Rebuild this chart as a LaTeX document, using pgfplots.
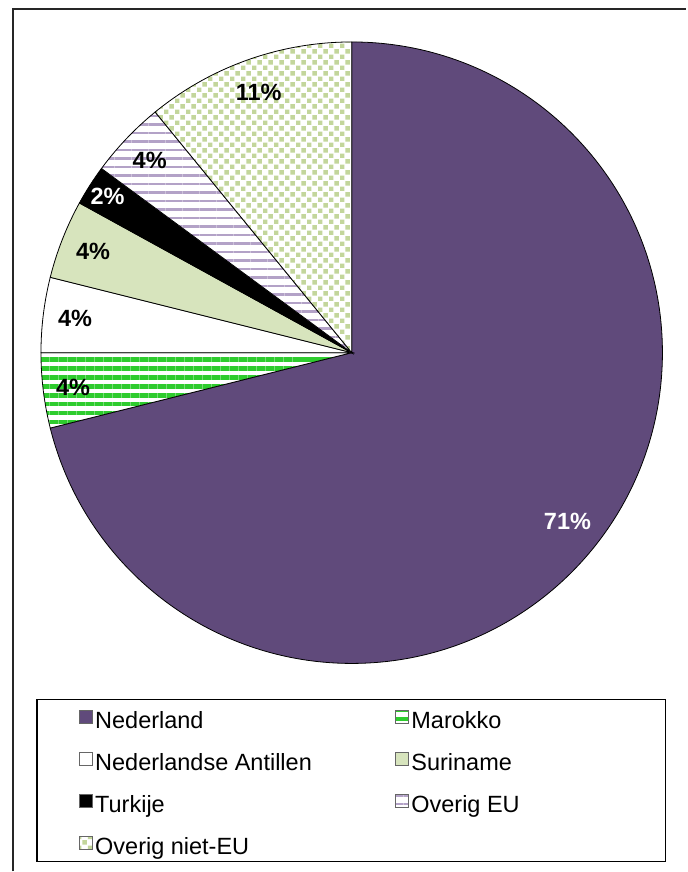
\documentclass[border=0pt]{standalone}
\usepackage{pgfplots}
\pgfplotsset{compat=1.18}
\usepackage{pgfplotstable}
\usepackage{fontspec}
\setmainfont{Liberation Sans}
\usetikzlibrary{patterns,patterns.meta}

\definecolor{cNed}{RGB}{96,74,123}
\definecolor{cMar}{RGB}{46,204,46}
\definecolor{cSur}{RGB}{215,228,189}
\definecolor{cEU}{RGB}{179,162,199}
\definecolor{cNEU}{RGB}{195,214,155}

\pgfdeclarepattern{
  name=sqdots, type=uncolored,
  bottom left={\pgfpoint{0pt}{0pt}},
  top right={\pgfpoint{11pt}{11pt}},
  tile size={\pgfpoint{11pt}{11pt}},
  code={
    \pgfpathrectangle{\pgfpoint{0pt}{0pt}}{\pgfpoint{4.5pt}{4.5pt}}
    \pgfpathrectangle{\pgfpoint{5.5pt}{5.5pt}}{\pgfpoint{4.5pt}{4.5pt}}
    \pgfusepath{fill}
  }
}

\tikzset{
  s0/.style={fill=cNed},
  s1/.style={preaction={fill=white}, pattern={Lines[angle=0,distance=9pt,line width=4.2pt]}, pattern color=cMar},
  s2/.style={fill=white},
  s3/.style={fill=cSur},
  s4/.style={fill=black},
  s5/.style={preaction={fill=white}, pattern={Lines[angle=0,distance=8.5pt,line width=2.4pt]}, pattern color=cEU},
  s6/.style={preaction={fill=white}, pattern=sqdots, pattern color=cNEU},
  t0/.style={text=white}, t1/.style={text=black}, t2/.style={text=black},
  t3/.style={text=black}, t4/.style={text=white}, t5/.style={text=black},
  t6/.style={text=black},
}
\newcommand\labfont{\fontsize{23.5}{27}\selectfont\bfseries}

% value = share in percent, pct = printed label, lr = label distance from centre
\pgfplotstableread{
value pct lr
71.1 71 274
3.9 4 281
3.9 4 279
4.1 4 278
2.1 2 290
4.0 4 279
10.9 11 277
}\piedata

\begin{document}
\begin{tikzpicture}
\begin{axis}[
  hide axis, x=1pt, y=1pt, scale only axis,
  xmin=0, xmax=687, ymin=-872, ymax=0, clip=false,
  legend columns=2, legend cell align=left,
  legend image code/.code={\draw[#1, draw=black!60, line width=0.6pt] (0pt,0.5pt) rectangle (12.5pt,13pt);},
  legend style={draw=none, fill=none, inner sep=0pt,
    at={(0.11499,0.18521)}, anchor=north west,
    font=\fontsize{23.5}{27}\selectfont,
    nodes={inner xsep=3pt, inner ysep=0pt, text height=15pt, text depth=4.5pt},
    row sep=19pt,
    /tikz/every even column/.append style={column sep=80.5pt}},
]
\path (axis cs:0,0) (axis cs:687,-872);
\draw[line width=1.5pt, black!85] (axis cs:13,-872) -- (axis cs:13,-9) -- (axis cs:687,-9);
\draw[line width=1.3pt] (axis cs:37,-700) rectangle (axis cs:666,-862);

\pgfmathsetmacro\cum{0}
\pgfplotsforeachungrouped \i in {0,...,6}{%
  \pgfplotstablegetelem{\i}{value}\of\piedata
  \pgfmathsetmacro\va{\pgfplotsretval}
  \pgfmathsetmacro\a{90-3.6*\cum}
  \pgfmathsetmacro\b{90-3.6*(\cum+\va)}
  \edef\temp{\noexpand\draw[s\i, draw=black, line width=0.8pt] (axis cs:352,-353) -- ([shift={(\a:311pt)}]axis cs:352,-353) arc[start angle=\a, end angle=\b, radius=311pt] -- cycle;}%
  \temp
  \pgfmathsetmacro\cum{\cum+\va}
}
\pgfmathsetmacro\cum{0}
\pgfplotsforeachungrouped \i in {0,...,6}{%
  \pgfplotstablegetelem{\i}{value}\of\piedata
  \pgfmathsetmacro\va{\pgfplotsretval}
  \pgfplotstablegetelem{\i}{pct}\of\piedata
  \edef\pct{\pgfplotsretval}
  \pgfplotstablegetelem{\i}{lr}\of\piedata
  \edef\lr{\pgfplotsretval}
  \pgfmathsetmacro\m{90-3.6*(\cum+\va/2)}
  \edef\temp{\noexpand\node[t\i, font=\noexpand\labfont] at ([shift={(\m:\lr pt)}]axis cs:352,-353) {\pct\noexpand\%};}%
  \temp
  \pgfmathsetmacro\cum{\cum+\va}
}

\addlegendimage{s0}\addlegendentry{Nederland}
\addlegendimage{s1}\addlegendentry{Marokko}
\addlegendimage{s2}\addlegendentry{Nederlandse Antillen}
\addlegendimage{s3}\addlegendentry{Suriname}
\addlegendimage{s4}\addlegendentry{Turkije}
\addlegendimage{s5}\addlegendentry{Overig EU}
\addlegendimage{s6}\addlegendentry{Overig niet-EU}
\end{axis}
\end{tikzpicture}
\end{document}
